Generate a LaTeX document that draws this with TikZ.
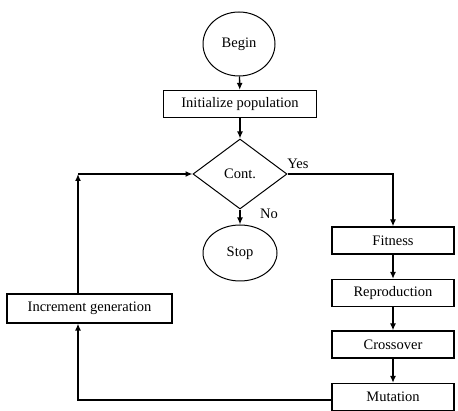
\documentclass[tikz,border=0pt]{standalone}
\usepackage{fontspec}
\setmainfont{Liberation Serif}
\usetikzlibrary{shapes.geometric,arrows.meta}
\begin{document}
\begin{tikzpicture}[x=1pt,y=-1pt,
  every node/.style={font=\fontsize{14.5}{16}\selectfont},
  box/.style={draw,line width=1.3pt,rectangle,inner sep=0pt},
  oval/.style={draw,line width=1pt,ellipse,inner sep=0pt},
  dia/.style={draw,line width=1pt,diamond,inner sep=0pt},
  conn/.style={line width=1.3pt},
  arr/.style={conn,-{Latex[length=7pt,width=6pt]}}]
\useasboundingbox (0,0) rectangle (458,411);
\node[oval,minimum width=72pt,minimum height=64pt] (begin) at (239,44) {Begin};
\node[box,minimum width=153pt,minimum height=27pt] (init) at (240,104) {Initialize population};
\node[dia,minimum width=94pt,minimum height=70pt,aspect=1.34] (cont) at (240,174) {Cont.};
\node[oval,minimum width=74pt,minimum height=56pt] (stop) at (240,253) {Stop};
\node[box,minimum width=122pt,minimum height=27pt] (fit) at (393,240.5) {Fitness};
\node[box,minimum width=122pt,minimum height=27pt] (rep) at (393,293) {Reproduction};
\node[box,minimum width=122pt,minimum height=27pt] (cross) at (393,344.5) {Crossover};
\node[box,minimum width=122pt,minimum height=27pt] (mut) at (393,397) {Mutation};
\node[box,minimum width=165pt,minimum height=29pt] (inc) at (89.5,308.5) {Increment generation};
\node (yes) at (298,164) {Yes};
\node (no) at (269,214) {No};
\coordinate (ctop) at (78,174);
\coordinate (cbot) at (78,400);
\coordinate (cyes) at (393,174);
\draw[arr] (begin) -- (init);
\draw[arr] (init) -- (cont);
\draw[arr] (cont) -- (stop);
\draw[arr] (cont.east) -- (cyes) -- (fit.north);
\draw[arr] (fit) -- (rep);
\draw[arr] (rep) -- (cross);
\draw[arr] (cross) -- (mut);
\draw[arr] (mut.west |- cbot) -- (cbot) -- (cbot |- inc.south);
\draw[arr] (ctop |- inc.north) -- (ctop);
\draw[arr] (ctop) -- (cont.west);
\end{tikzpicture}
\end{document}
